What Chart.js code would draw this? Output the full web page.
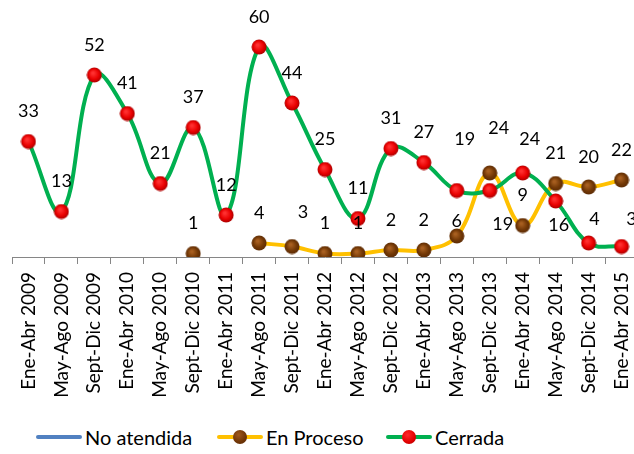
<!DOCTYPE html>
<html>
<head>
<meta charset="utf-8">
<script src="https://cdn.jsdelivr.net/npm/chart.js@4"></script>
<style>
  html, body { margin: 0; padding: 0; background: #fff; overflow: hidden; width: 634px; height: 454px; }
  #chart { position: absolute; left: 0; top: 0; }
  .legend { position: absolute; top: 424px; left: 0; font-family: Lato, sans-serif; font-size: 20px; color: #000; }
  .item { position: absolute; top: 0; white-space: nowrap; height: 26px; line-height: 26px; }
  .item .ln { position: absolute; left: 0; top: 11px; width: 46px; height: 4px; border-radius: 2px; }
  .item .dot { position: absolute; left: 16px; top: 6px; width: 14px; height: 14px; border-radius: 50%; }
  .item .tx { position: absolute; left: 49px; top: 0; }
</style>
</head>
<body>
<canvas id="chart" width="650" height="410"></canvas>
<div class="legend">
  <div class="item" style="left:36px"><span class="ln" style="background:#5181c1"></span><span class="tx">No atendida</span></div>
  <div class="item" style="left:217px"><span class="ln" style="background:#ffc000"></span><span class="dot" style="background:radial-gradient(circle at 40% 35%, #a0581c, #6e3406 60%, #5a2a05)"></span><span class="tx">En Proceso</span></div>
  <div class="item" style="left:386px"><span class="ln" style="background:#00b050"></span><span class="dot" style="background:radial-gradient(circle at 40% 35%, #ff2a2a, #e00000 60%, #a00000)"></span><span class="tx">Cerrada</span></div>
</div>
<script>
// data
const categories = ['Ene-Abr 2009', 'May-Ago 2009', 'Sept-Dic 2009', 'Ene-Abr 2010', 'May-Ago 2010',
  'Sept-Dic 2010', 'Ene-Abr 2011', 'May-Ago 2011', 'Sept-Dic 2011', 'Ene-Abr 2012', 'May-Ago 2012',
  'Sept-Dic 2012', 'Ene-Abr 2013', 'May-Ago 2013', 'Sept-Dic 2013', 'Ene-Abr 2014', 'May-Ago 2014',
  'Sept-Dic 2014', 'Ene-Abr 2015'];
const noAtendida = categories.map(() => null);
const enProceso = [null, null, null, null, null, 1, null, 4, 3, 1, 1, 2, 2, 6, 24, 9, 21, 20, 22];
const cerrada = [33, 13, 52, 41, 21, 37, 12, 60, 44, 25, 11, 31, 27, 19, 19, 24, 16, 4, 3];

// label nudges where the original moved them by hand (index: [dx, dy])
const procesoNudge = { 8: [11, -34], 13: [0, -15], 14: [9, -45] };
const cerradaNudge = { 13: [8, -51], 14: [13, 34], 15: [7, -34], 16: [3, 24], 17: [6, -24], 18: [10, -27] };

function makeDot(inner, mid, outer) {
  const c = document.createElement('canvas');
  c.width = 16; c.height = 16;
  const g = c.getContext('2d');
  const grad = g.createRadialGradient(6.5, 6, 1, 8, 8, 8);
  grad.addColorStop(0, inner);
  grad.addColorStop(0.6, mid);
  grad.addColorStop(1, outer);
  g.fillStyle = grad;
  g.beginPath();
  g.arc(8, 8, 7.5, 0, Math.PI * 2);
  g.fill();
  return c;
}
const brownDot = makeDot('#a85f20', '#723806', '#5a2a05');
const redDot = makeDot('#ff3030', '#e80000', '#a00000');

const dataLabels = {
  id: 'dataLabels',
  afterDatasetsDraw(chart) {
    const ctx = chart.ctx;
    ctx.save();
    ctx.font = '18px Lato';
    ctx.fillStyle = '#000';
    ctx.textAlign = 'center';
    ctx.textBaseline = 'middle';
    chart.data.datasets.forEach((ds, i) => {
      if (!ds.nudge) return;
      chart.getDatasetMeta(i).data.forEach((pt, j) => {
        const v = ds.data[j];
        if (v === null) return;
        const n = ds.nudge[j] || [0, -30];
        ctx.fillText(String(v), pt.x + n[0], pt.y + n[1]);
      });
    });
    ctx.restore();
  }
};

new Chart(document.getElementById('chart'), {
  type: 'line',
  data: {
    labels: categories,
    datasets: [{
      label: 'No atendida',
      data: noAtendida,
      borderColor: '#5181c1',
      borderWidth: 4,
      pointRadius: 0
    }, {
      label: 'Cerrada',
      data: cerrada,
      borderColor: '#00b050',
      borderWidth: 4,
      tension: 0.4,
      pointStyle: redDot,
      pointRadius: 8,
      nudge: cerradaNudge
    }, {
      label: 'En Proceso',
      data: enProceso,
      borderColor: '#ffc000',
      borderWidth: 4,
      tension: 0.4,
      pointStyle: brownDot,
      pointRadius: 8,
      nudge: procesoNudge
    }]
  },
  options: {
    responsive: false,
    animation: false,
    layout: { padding: { left: 12, right: 12, top: 12, bottom: 0 } },
    plugins: { legend: { display: false }, tooltip: { enabled: false } },
    scales: {
      x: {
        offset: true,
        grid: { offset: true, drawOnChartArea: false, color: '#868686', tickLength: 7 },
        border: { color: '#868686' },
        ticks: {
          maxRotation: 90, minRotation: 90, padding: 8,
          color: '#000', font: { family: 'Lato', size: 19 }
        },
        afterFit(s) { s.height = 153; s.paddingLeft = 0; s.paddingRight = 0; }
      },
      y: { display: false, min: 0, max: 70 }
    }
  },
  plugins: [dataLabels]
});
</script>
</body>
</html>
